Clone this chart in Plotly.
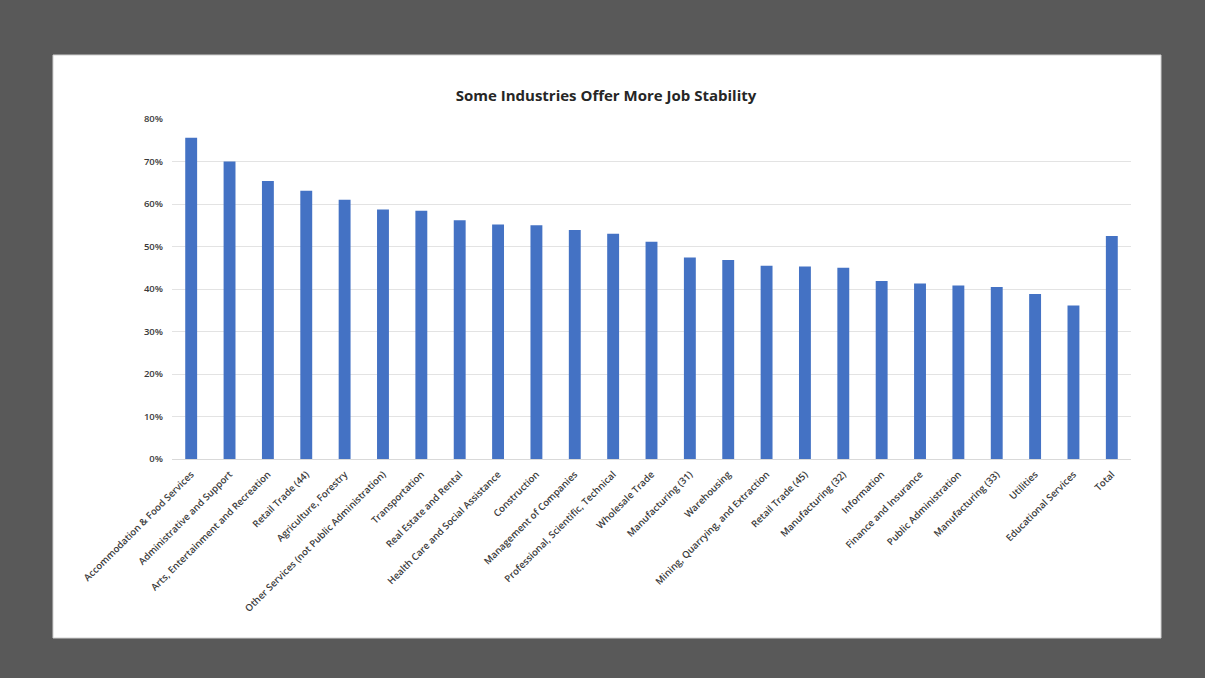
import plotly.graph_objects as go

categories = [
    "Accommodation & Food Services", "Administrative and Support",
    "Arts, Entertainment and Recreation", "Retail Trade (44)",
    "Agriculture, Forestry", "Other Services (not Public Administration)",
    "Transportation", "Real Estate and Rental",
    "Health Care and Social Assistance", "Construction",
    "Management of Companies", "Professional, Scientific, Technical",
    "Wholesale Trade", "Manufacturing (31)", "Warehousing",
    "Mining, Quarrying, and Extraction", "Retail Trade (45)",
    "Manufacturing (32)", "Information", "Finance and Insurance",
    "Public Administration", "Manufacturing (33)", "Utilities",
    "Educational Services", "Total",
]
values = [
    0.756, 0.700, 0.654, 0.631, 0.610, 0.587, 0.584, 0.562, 0.552, 0.550,
    0.539, 0.530, 0.511, 0.474, 0.468, 0.455, 0.453, 0.450, 0.419, 0.413,
    0.408, 0.405, 0.388, 0.361, 0.525,
]
y_ticks = [0, 0.1, 0.2, 0.3, 0.4, 0.5, 0.6, 0.7, 0.8]

W, H = 1205, 678
L, R, T, B = 172, 74, 119, 219
pw, ph = W - L - R, H - T - B

def px2paper_x(px):
    return (px - L) / pw

def px2paper_y(py):
    return (H - B - py) / ph

fig = go.Figure()
fig.add_trace(go.Bar(
    x=categories, y=values,
    marker=dict(color="#4472C4", line=dict(width=0)),
))

# white card on dark background
fig.add_shape(type="rect", xref="paper", yref="paper", layer="below",
              x0=px2paper_x(53), x1=px2paper_x(1161),
              y0=px2paper_y(638), y1=px2paper_y(55),
              fillcolor="white", line=dict(color="#d0d0d0", width=1))

fig.update_layout(
    width=W, height=H,
    margin=dict(l=L, r=R, t=T, b=B, pad=0),
    paper_bgcolor="#595959",
    plot_bgcolor="rgba(0,0,0,0)",
    bargap=0.69,
    showlegend=False,
    font=dict(family="Open Sans, Lato, sans-serif", color="#404040"),
    title=dict(
        text="<b>Some Industries Offer More Job Stability</b>",
        x=606 / W, xref="container", xanchor="center",
        y=1 - 96 / H, yref="container", yanchor="middle",
        font=dict(size=15, color="#262626", family="Open Sans, sans-serif"),
    ),
    xaxis=dict(
        tickangle=-45,
        tickfont=dict(size=9.6, color="#3a3a3a", weight=600),
        showgrid=False,
        showline=True, linecolor="#d9d9d9", linewidth=1,
        ticks="", ticklabelstandoff=5,
        range=[-0.5, len(categories) - 0.5],
    ),
    yaxis=dict(
        range=[0, 0.8],
        tickvals=y_ticks,
        tickformat=".0%",
        tickfont=dict(size=9.5, color="#3a3a3a", weight=600),
        showgrid=True, gridcolor="#e3e3e3", gridwidth=1,
        zeroline=False, showline=False,
        ticks="", ticklabelstandoff=8,
    ),
)

fig.write_html("out.html")
